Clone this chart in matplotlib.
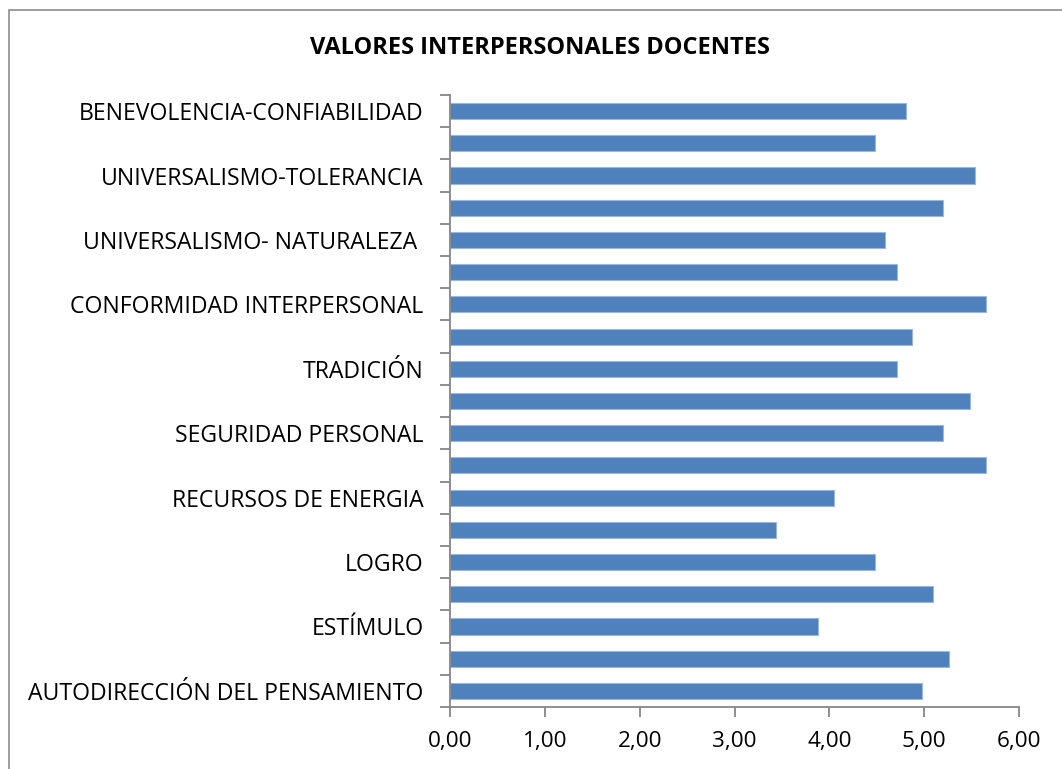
import matplotlib
matplotlib.use("Agg")
import matplotlib.pyplot as plt
from matplotlib.patches import Rectangle
from matplotlib.ticker import FixedLocator, FuncFormatter

# Categories, bottom to top (unlabeled categories are shown without text in the reference)
categories = [
    "AUTODIRECCIÓN DEL PENSAMIENTO", "",
    "ESTÍMULO", "",
    "LOGRO", "",
    "RECURSOS DE ENERGIA", "",
    "SEGURIDAD PERSONAL", "",
    "TRADICIÓN", "",
    "CONFORMIDAD INTERPERSONAL", "",
    "UNIVERSALISMO- NATURALEZA ", "",
    "UNIVERSALISMO-TOLERANCIA", "",
    "BENEVOLENCIA-CONFIABILIDAD",
]
values = [4.98, 5.26, 3.88, 5.09, 4.48, 3.44, 4.05, 5.65, 5.20, 5.48,
          4.71, 4.87, 5.65, 4.71, 4.59, 5.20, 5.54, 4.48, 4.81]
x_ticks = [0, 1, 2, 3, 4, 5, 6]
title = "VALORES INTERPERSONALES DOCENTES"

plt.rcParams['font.family'] = ['Open Sans', 'DejaVu Sans']

W, H = 1062, 769
fig = plt.figure(figsize=(W / 100, H / 100), dpi=100)
fig.patch.set_facecolor("white")

# outer chart frame (cropped at right and bottom in the reference)
fig.add_artist(Rectangle((8.5 / W, -0.01), 1.02, 1.01 - 9.5 / H,
                         transform=fig.transFigure, fill=False,
                         edgecolor="#8c8c8c", linewidth=1.2))

ax = fig.add_axes([450 / W, 1 - 707 / H, (1019 - 450) / W, (707 - 95) / H])
ypos = list(range(len(categories)))
ax.barh(ypos, values, height=0.5, color="#4F81BD", edgecolor="#9bb7dc", linewidth=0.8)

ax.set_xlim(0, 6)
ax.set_ylim(-0.5, len(categories) - 0.5)
ax.set_xticks(x_ticks)
ax.xaxis.set_major_formatter(FuncFormatter(lambda v, p: f"{v:.2f}".replace(".", ",")))
ax.set_yticks(ypos)
ax.set_yticklabels(categories)
ax.yaxis.set_minor_locator(FixedLocator([i - 0.5 for i in range(len(categories) + 1)]))

for s in ["top", "right"]:
    ax.spines[s].set_visible(False)
for s in ["left", "bottom"]:
    ax.spines[s].set_color("#868686")
    ax.spines[s].set_linewidth(1.3)

ax.tick_params(axis="y", which="major", length=0, pad=19, labelsize=16.6, labelcolor="black")
ax.tick_params(axis="y", which="minor", length=7, width=1.3, color="#868686", direction="out")
ax.tick_params(axis="x", which="major", length=7, width=1.3, color="#868686",
               direction="out", labelsize=16.2, pad=10)

fig.text(540 / W, 1 - 48 / H, title, ha="center", va="center",
         fontsize=17, fontweight="bold")

fig.savefig("out.png", dpi=100)
